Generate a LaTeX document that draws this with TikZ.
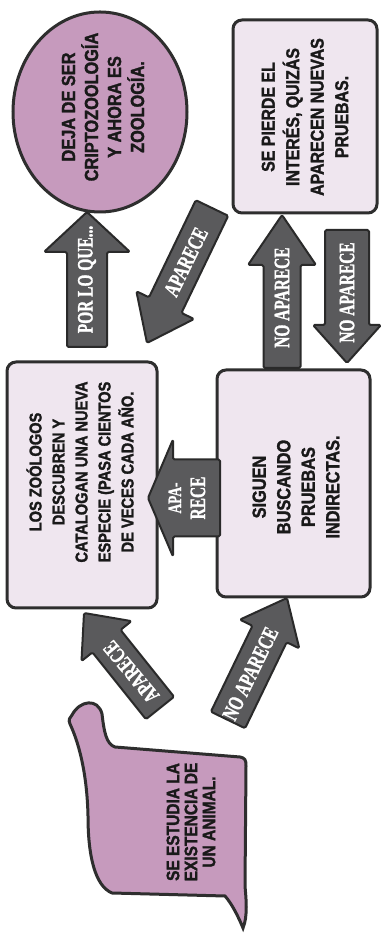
\documentclass[tikz,border=0pt]{standalone}
\usepackage{fontspec}
\setmainfont{Liberation Sans}
\newfontfamily\boxfont{Liberation Sans}[FakeStretch=0.86, BoldFeatures={FakeBold=1.6}]
\newfontfamily\arrfont{Liberation Serif}[FakeStretch=0.7, BoldFeatures={FakeBold=1.2}]
\usetikzlibrary{calc,shapes.geometric}
\definecolor{pinkfill}{HTML}{C69ABD}
\definecolor{lightfill}{HTML}{EFE6EF}
\definecolor{edgecol}{HTML}{2E2E2E}
\definecolor{arrfill}{HTML}{5A5A5C}
\definecolor{arrline}{HTML}{2A2A2A}
\tikzset{
  box/.style={draw=edgecol, line width=3pt, fill=lightfill, rounded corners=9pt, rotate=90, inner sep=0pt},
  pinkshape/.style={draw=edgecol, line width=3pt, fill=pinkfill},
  boxtext/.style={rotate=90, align=center, inner sep=0pt, text=black!90},
  blockarr/.style={draw=arrline, line width=2pt, fill=arrfill, line join=round, rounded corners=1.5pt},
  arrtext/.style={text=white, font=\arrfont\bfseries\fontsize{22}{24}\selectfont, inner sep=0pt, align=center},
}
% #1 name, #2 tail, #3 tip, #4 shaft half width, #5 head half width,
% #6 head length, #7 text rotation, #8 text, #9 text position (fraction)
\newcommand\blockarrow[9]{%
  \coordinate (#1t) at #2;
  \coordinate (#1h) at #3;
  \coordinate (#1b) at ($(#1h)!#6pt!(#1t)$);
  \draw[blockarr] ($(#1t)!#4pt!90:(#1h)$) -- ($(#1b)!#4pt!90:(#1h)$) -- ($(#1b)!#5pt!90:(#1h)$) -- (#1h) -- ($(#1b)!#5pt!-90:(#1h)$) -- ($(#1b)!#4pt!-90:(#1h)$) -- ($(#1t)!#4pt!-90:(#1h)$) -- cycle;
  \node[arrtext, rotate=#7] (#1) at ($(#1t)!#9!(#1h)$) {#8};
}
\begin{document}
\begin{tikzpicture}[x=1pt,y=1pt]
\useasboundingbox (0,0) rectangle (380,936);
\fill[white] (0,0) rectangle (380,936);

% ellipse
\node[ellipse, pinkshape, minimum width=174pt, minimum height=200pt, inner sep=0pt] (deja) at (100,824) {};
\node[boxtext, font=\boxfont\bfseries\fontsize{19}{23}\selectfont] (dejatext) at (103,829)
  {DEJA DE SER\\CRIPTOZOOLOGÍA\\Y AHORA ES\\ZOOLOGÍA.};

% boxes
\node[box, minimum width=193pt, minimum height=144pt] (pierde) at (305,819.5) {};
\node[boxtext, font=\boxfont\bfseries\fontsize{18.5}{24.5}\selectfont] (pierdetext) at (305,819)
  {SE PIERDE EL\\INTERÉS, QUIZÁS\\APARECEN NUEVAS\\PRUEBAS.};

\node[box, minimum width=246pt, minimum height=150pt] (zoo) at (82,451) {};
\node[boxtext, font=\boxfont\bfseries\fontsize{17}{23}\selectfont] (zootext) at (80,464)
  {LOS ZOÓLOGOS\\DESCUBREN Y\\CATALOGAN UNA NUEVA\\ESPECIE (PASA CIENTOS\\DE VECES CADA AÑO.};

\node[box, minimum width=227pt, minimum height=153pt] (siguen) at (293.5,452.5) {};
\node[boxtext, font=\boxfont\bfseries\fontsize{19}{24.5}\selectfont] (siguentext) at (296,449)
  {SIGUEN\\BUSCANDO\\PRUEBAS\\INDIRECTAS.};

% speech bubble
\draw[pinkshape] (72,221) .. controls (80,236) and (98,238) .. (102,222)
  .. controls (104,205) and (106,192) .. (115,189) -- (240,179)
  .. controls (245,178) and (246,176) .. (246,170) -- (245,50)
  .. controls (246,38) and (248,20) .. (243,8)
  .. controls (238,20) and (232,32) .. (225,40) -- (112,43)
  .. controls (95,50) and (88,80) .. (88,120)
  .. controls (87,165) and (78,195) .. (70,212)
  .. controls (68,216) and (70,219) .. (72,221) -- cycle;
\node[boxtext, font=\boxfont\bfseries\fontsize{18}{18}\selectfont] (estudia) at (191,114)
  {SE ESTUDIA LA\\EXISTENCIA DE\\UN ANIMAL.};

% block arrows
\blockarrow{a1}{(87,589)}{(87,724)}{20}{43}{40}{90}{POR LO QUE...}{0.5}
\blockarrow{a2}{(212,728)}{(147,593)}{18}{32}{42}{64}{APARECE}{0.4}
\blockarrow{a3}{(282,568)}{(282,721)}{18.5}{34}{50}{90}{NO APARECE}{0.46}
\blockarrow{a4}{(347,706)}{(347,573)}{22}{34}{38}{90}{NO APARECE}{0.47}
\blockarrow{a5}{(220,438)}{(148,438)}{38.5}{58.5}{25}{90}{\fontsize{19}{23}\selectfont APA-\\RECE}{0.46}
\blockarrow{a6}{(160,228)}{(84,323)}{18}{32}{36}{130}{APARECE}{0.38}
\blockarrow{a7}{(228,216)}{(287,338)}{19}{33}{40}{64}{NO APARECE}{0.38}
\end{tikzpicture}
\end{document}
